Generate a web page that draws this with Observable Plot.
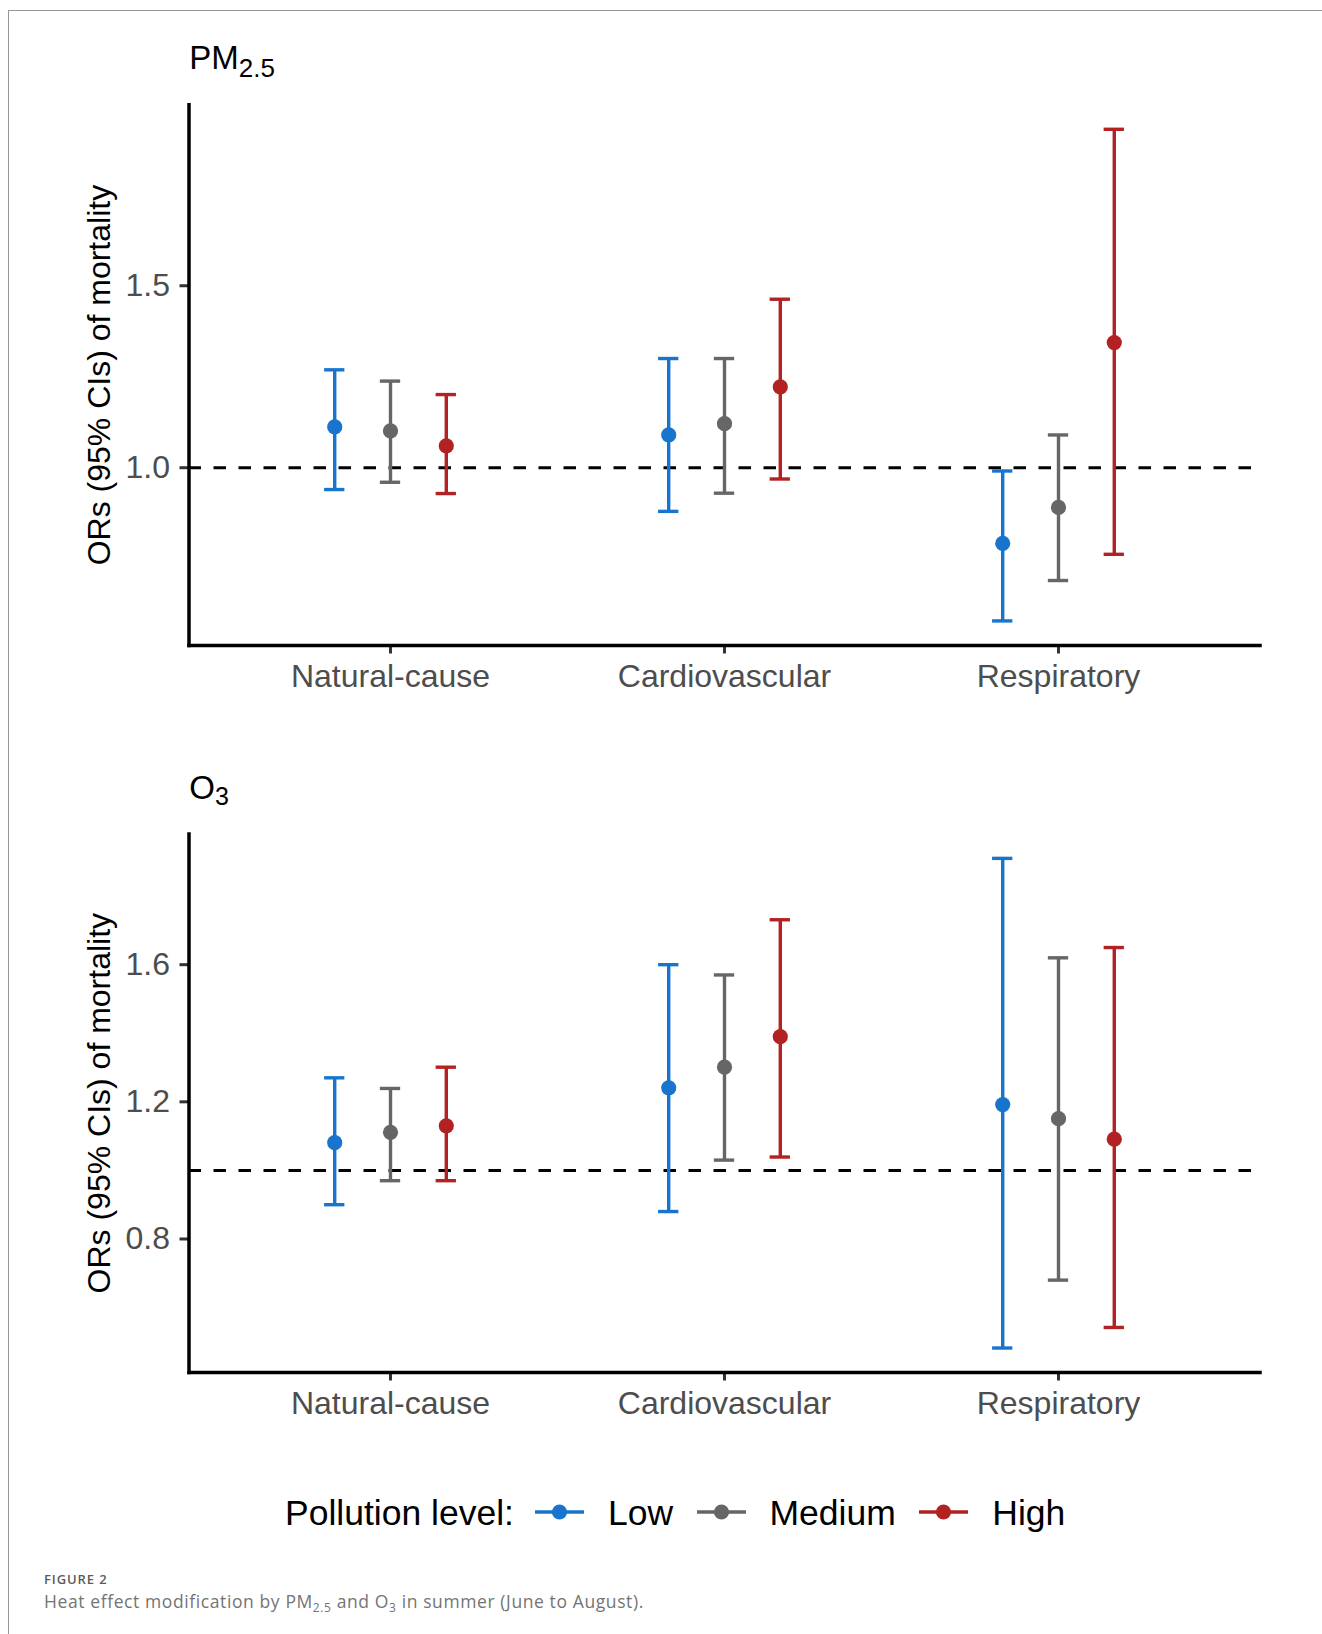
<!DOCTYPE html>
<html>
<head>
<meta charset="utf-8">
<script src="https://cdn.jsdelivr.net/npm/d3@7"></script>
<script src="https://cdn.jsdelivr.net/npm/@observablehq/plot@0.6"></script>
<style>
  html, body { margin: 0; padding: 0; background: #fff; }
  #page { position: relative; width: 1322px; height: 1634px; overflow: hidden; background: #fff; }
  #border { position: absolute; left: 8px; top: 10px; width: 1330px; height: 1640px;
            border-left: 1.5px solid #969696; border-top: 1.5px solid #969696; }
  .panel { position: absolute; left: 0; }
  #legend { position: absolute; left: 285px; top: 1493px; height: 40px; display: flex; align-items: center;
            font-family: "Liberation Sans", Arial, sans-serif; font-size: 35.5px; line-height: 40px; color: #000; white-space: nowrap; }
  #legend svg { display: block; }
  #notes { position: absolute; left: 0; top: 0; pointer-events: none; }
</style>
</head>
<body>
<div id="page">
  <div id="border"></div>
  <div id="panel1" class="panel"></div>
  <div id="panel2" class="panel"></div>
  <div id="legend"></div>
  <svg id="notes" width="1322" height="1634">
    <text x="189.3" y="69.3" font-family="Liberation Sans, Arial, sans-serif" font-size="33" fill="#000">PM<tspan font-size="26" dy="7.4">2.5</tspan></text>
    <text x="189.3" y="799.3" font-family="Liberation Sans, Arial, sans-serif" font-size="33" fill="#000">O<tspan font-size="25" dy="6">3</tspan></text>
    <text x="44" y="1584" font-family="Open Sans, sans-serif" font-size="13" font-weight="600" letter-spacing="0.9" fill="#5c5c5c">FIGURE 2</text>
    <text x="44" y="1608" font-family="Open Sans, sans-serif" font-size="17.5" letter-spacing="0.6" fill="#747474">Heat effect modification by PM<tspan font-size="12" dy="3.5">2.5</tspan><tspan dy="-3.5"> and O</tspan><tspan font-size="12" dy="3.5">3</tspan><tspan dy="-3.5"> in summer (June to August).</tspan></text>
  </svg>
</div>
<script>
// ---- Data ----
const causes = ["Natural-cause", "Cardiovascular", "Respiratory"];
const levels = ["Low", "Medium", "High"];
const levelColors = ["#1874cd", "#666666", "#b22222"];

// Ordered by cause, then level (Low, Medium, High)
const pm25OR    = [1.112, 1.101, 1.060,  1.090, 1.121, 1.222,  0.792, 0.891, 1.344];
const pm25Lower = [0.940, 0.960, 0.929,  0.880, 0.930, 0.969,  0.579, 0.690, 0.762];
const pm25Upper = [1.269, 1.238, 1.201,  1.300, 1.300, 1.463,  0.991, 1.090, 1.930];

const o3OR    = [1.081, 1.111, 1.130,  1.241, 1.301, 1.390,  1.192, 1.151, 1.091];
const o3Lower = [0.900, 0.970, 0.970,  0.880, 1.030, 1.039,  0.482, 0.680, 0.542];
const o3Upper = [1.270, 1.239, 1.301,  1.600, 1.570, 1.731,  1.910, 1.620, 1.650];

const pm25Ticks = [1.0, 1.5];
const o3Ticks = [0.8, 1.2, 1.6];
const yLabel = "ORs (95% CIs) of mortality";

function buildRows(or, lower, upper) {
  const rows = [];
  causes.forEach((c, i) => levels.forEach((l, j) => {
    const k = i * levels.length + j;
    rows.push({cause: c, level: l, or: or[k], lower: lower[k], upper: upper[k]});
  }));
  return rows;
}

function panel(rows, yTicks, frameTop, frameBottom, svgTop) {
  const W = 1322, ML = 188.5, MR = 62.5, H = 730;
  const MT = frameTop - svgTop, MB = svgTop + H - frameBottom;
  const [mn, mx] = d3.extent(rows.flatMap(d => [d.lower, d.upper]));
  const ex = (mx - mn) * 0.05;               // ggplot default 5% expansion
  const step = (W - ML - MR) / (causes.length + 2 * 0.1);  // band scale, paddingOuter 0.1 == 0.6 discrete expansion
  const dodge = step * 0.5 / levels.length;  // position_dodge(width = 0.5)
  const capInset = (step - 21) / 2;          // errorbar cap ~21px wide
  const marks = [
    Plot.ruleY([1], {stroke: "#000", strokeWidth: 3, strokeDasharray: "12.5,12.5"})
  ];
  levels.forEach((lv, j) => {
    const sub = rows.filter(d => d.level === lv);
    const dx = (j - (levels.length - 1) / 2) * dodge;
    marks.push(
      Plot.ruleX(sub, {x: "cause", y1: "lower", y2: "upper", stroke: "level", strokeWidth: 3.4, dx}),
      Plot.tickY(sub, {x: "cause", y: "upper", stroke: "level", strokeWidth: 3.4, dx, insetLeft: capInset, insetRight: capInset}),
      Plot.tickY(sub, {x: "cause", y: "lower", stroke: "level", strokeWidth: 3.4, dx, insetLeft: capInset, insetRight: capInset}),
      Plot.dot(sub, {x: "cause", y: "or", fill: "level", r: 7.6, dx})
    );
  });
  marks.push(
    Plot.axisY({ticks: yTicks, tickFormat: d3.format(".1f"), tickSize: 9, tickPadding: 10,
                fontSize: 32, fill: "#4d4d4d", stroke: "#333333", strokeWidth: 3, label: null}),
    Plot.axisY({ticks: [], label: yLabel, labelAnchor: "center", labelArrow: "none", labelOffset: 102,
                fontSize: 32, fill: "#000"}),
    Plot.axisX({tickSize: 8.5, tickPadding: 10.5, fontSize: 32, fill: "#4d4d4d", stroke: "#333333",
                strokeWidth: 3, label: null}),
    Plot.frame({anchor: "left", stroke: "#000", strokeWidth: 3.5, strokeLinecap: "square"}),
    Plot.frame({anchor: "bottom", stroke: "#000", strokeWidth: 3.5, strokeLinecap: "square"})
  );
  return Plot.plot({
    width: W, height: H,
    marginLeft: ML, marginRight: MR, marginTop: MT, marginBottom: MB,
    x: {type: "band", domain: causes, paddingInner: 0, paddingOuter: 0.1},
    y: {domain: [mn - ex, mx + ex]},
    color: {domain: levels, range: levelColors},
    style: {fontFamily: "Liberation Sans, Arial, sans-serif", background: "transparent", overflow: "visible"},
    marks
  });
}

const p1 = document.getElementById("panel1");
p1.style.top = "0px";
p1.appendChild(panel(buildRows(pm25OR, pm25Lower, pm25Upper), pm25Ticks, 104.2, 645, 0));

const p2 = document.getElementById("panel2");
p2.style.top = "730px";
p2.appendChild(panel(buildRows(o3OR, o3Lower, o3Upper), o3Ticks, 833.4, 1372, 730));

// ---- Legend ----
const legend = d3.select("#legend");
legend.append("span").text("Pollution level:");
levels.forEach((lv, j) => {
  const key = legend.append("svg").attr("width", 49).attr("height", 40)
    .style("margin-left", j === 0 ? "21px" : "23.5px");
  key.append("line").attr("x1", 0).attr("x2", 49).attr("y1", 19).attr("y2", 19)
    .attr("stroke", levelColors[j]).attr("stroke-width", 3.4);
  key.append("circle").attr("cx", 24.5).attr("cy", 19).attr("r", 7.6).attr("fill", levelColors[j]);
  legend.append("span").text(lv).style("margin-left", "24px");
});
</script>
</body>
</html>
